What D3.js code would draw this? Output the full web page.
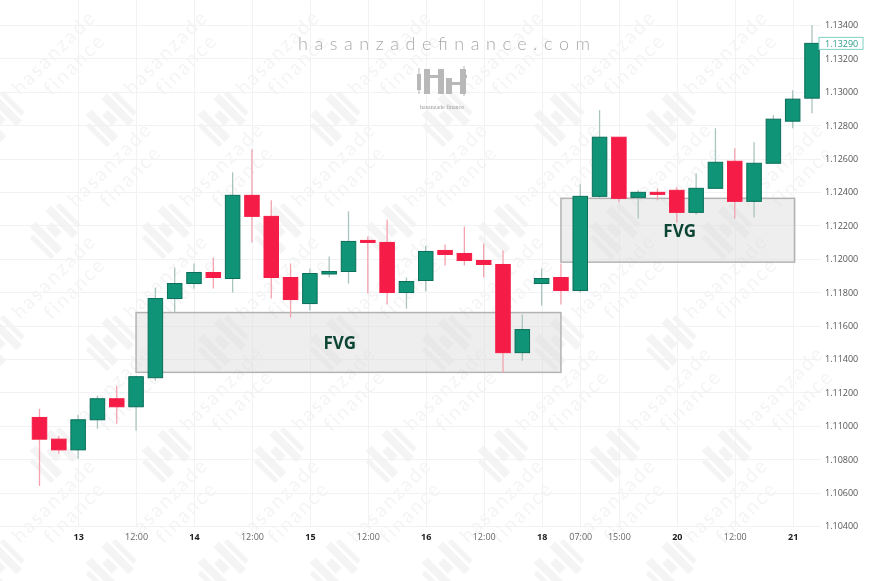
<!DOCTYPE html>
<html>
<head>
<meta charset="utf-8">
<script src="https://cdn.jsdelivr.net/npm/d3@7/dist/d3.min.js"></script>
<style>
  html, body { margin: 0; padding: 0; background: #fff; }
  svg { display: block; }
</style>
</head>
<body>
<div id="chart"></div>
<script>
// ---------- DATA ----------
const opens  = [1.11050,1.10920,1.10856,1.11036,1.11162,1.11114,1.11288,1.11762,1.11852,1.11918,
                1.11882,1.12380,1.12254,1.11888,1.11732,1.11909,1.11924,1.12110,1.12098,1.11798,
                1.11870,1.12050,1.12032,1.11990,1.11966,1.11438,1.11852,1.11888,1.11810,1.12374,
                1.12728,1.12368,1.12398,1.12410,1.12278,1.12422,1.12584,1.12344,1.12572,1.12824,
                1.12962];
const highs  = [1.11102,1.10940,1.11066,1.11180,1.11240,1.11300,1.11828,1.11948,1.11972,1.12008,
                1.12518,1.12656,1.12350,1.11972,1.11942,1.12014,1.12284,1.12134,1.12236,1.11888,
                1.12080,1.12086,1.12194,1.12092,1.12050,1.11666,1.11942,1.11972,1.12446,1.12890,
                1.12728,1.12410,1.12422,1.12428,1.12512,1.12782,1.12662,1.12698,1.12860,1.13010,
                1.13400];
const lows   = [1.10640,1.10832,1.10802,1.10982,1.11012,1.10970,1.11270,1.11678,1.11822,1.11822,
                1.11798,1.12098,1.11762,1.11648,1.11690,1.11888,1.11852,1.11792,1.11726,1.11702,
                1.11804,1.11960,1.11960,1.11888,1.11318,1.11390,1.11720,1.11726,1.11798,1.12362,
                1.12338,1.12242,1.12350,1.12218,1.12266,1.12422,1.12242,1.12248,1.12572,1.12782,
                1.12872];
const closes = [1.10920,1.10856,1.11036,1.11162,1.11114,1.11294,1.11762,1.11852,1.11918,1.11888,
                1.12380,1.12254,1.11888,1.11756,1.11912,1.11924,1.12104,1.12098,1.11798,1.11864,
                1.12044,1.12026,1.11990,1.11966,1.11438,1.11576,1.11882,1.11810,1.12374,1.12728,
                1.12362,1.12398,1.12386,1.12278,1.12422,1.12578,1.12344,1.12572,1.12836,1.12956,
                1.13290];

const yTicks = [1.134,1.132,1.130,1.128,1.126,1.124,1.122,1.120,1.118,1.116,1.114,1.112,1.110,1.108,1.106,1.104];

const xTickIndex  = [2, 5, 8, 11, 14, 17, 20, 23, 26, 28, 30, 33, 36, 39];
const xTickLabels = ["13","12:00","14","12:00","15","12:00","16","12:00","18","07:00","15:00","20","12:00","21"];

// FVG zones: start candle index, end candle index, top price, bottom price, label index position
const fvgStart  = [5, 27];
const fvgEnd    = [27, 39.1];
const fvgTop    = [1.11678, 1.12362];
const fvgBottom = [1.11320, 1.11980];
const fvgLabelX = [15.55, 33.15];
const fvgLabels = ["FVG", "FVG"];

const lastPrice = 1.13290;

// ---------- SETUP ----------
const W = 885, H = 581;
const svg = d3.select("#chart").append("svg").attr("width", W).attr("height", H);
svg.append("rect").attr("width", W).attr("height", H).attr("fill", "#fff");

const x = d3.scaleLinear().domain([0, opens.length - 1]).range([39.5, 812]);
const y = d3.scaleLinear().domain([1.104, 1.134]).range([526, 25]);
const bodyW = 14.5;
const plotRight = 821;

// ---------- BACKGROUND WATERMARK (tiled, kept inside the frame) ----------
const wm = svg.append("g").attr("opacity", 0.045);
const wmCenters = [];
for (let r = 0; r < 5; r++) {
  for (let c = 0; c < 8; c++) {
    const cx = 58 + c * 112 + (r % 2 ? 56 : 0);
    const cy = 62 + r * 112;
    if (cx >= 55 && cx <= 830 && cy <= 525) wmCenters.push([cx, cy]);
  }
}
wmCenters.forEach(p => {
  const g = wm.append("g").attr("transform", `translate(${p[0]},${p[1]}) rotate(-45)`);
  g.append("text").attr("x", 4).attr("y", -3).attr("text-anchor", "middle")
    .attr("font-family", "Lato, sans-serif").attr("font-size", 20).attr("letter-spacing", 2)
    .attr("fill", "#000").text("hasanzade");
  g.append("text").attr("x", 10).attr("y", 20).attr("text-anchor", "middle")
    .attr("font-family", "Lato, sans-serif").attr("font-size", 20).attr("letter-spacing", 2)
    .attr("fill", "#000").text("finance");
  const lg = g.append("g").attr("transform", "translate(-105,-22)");
  [[0,8,5,30],[8,0,8,38],[19,12,8,14],[30,0,8,38],[41,4,5,30]].forEach(b =>
    lg.append("rect").attr("x", b[0]).attr("y", b[1]).attr("width", b[2]).attr("height", b[3]).attr("fill", "#000"));
});

// ---------- GRID ----------
const grid = svg.append("g").attr("stroke", "#f1f2f4").attr("stroke-width", 1);
grid.selectAll("line.h").data(yTicks).join("line")
  .attr("x1", 0).attr("x2", plotRight)
  .attr("y1", d => Math.round(y(d)) + 0.5).attr("y2", d => Math.round(y(d)) + 0.5);
grid.selectAll("line.v").data(xTickIndex).join("line")
  .attr("y1", 0).attr("y2", 527)
  .attr("x1", d => Math.round(x(d)) + 0.5).attr("x2", d => Math.round(x(d)) + 0.5);

// ---------- HEADER WATERMARK ----------
svg.append("text")
  .attr("x", 298).attr("y", 50)
  .attr("textLength", 292).attr("lengthAdjust", "spacing")
  .attr("font-family", "Lato, sans-serif").attr("font-size", 18).attr("font-weight", 300)
  .attr("fill", "#a9a9a9")
  .text("hasanzadefinance.com");

const logo = svg.append("g").attr("fill", "#b8b8b8").attr("transform", "translate(416,64)");
[[1,10,4,16],[2.5,4,1,26],
 [8,5,6,25],[14,11,8,3],[22,5,6,25],
 [30,14,6,16],[36,18,8,3],[44,5,6,25],[50,11,1,3],
 [47.5,2,1,30]].forEach(b =>
  logo.append("rect").attr("x", b[0]).attr("y", b[1]).attr("width", b[2]).attr("height", b[3]));
logo.append("circle").attr("cx", 25).attr("cy", 12).attr("r", 1.5);
logo.append("circle").attr("cx", 33).attr("cy", 27).attr("r", 1.5);
svg.append("text").attr("x", 442).attr("y", 109).attr("text-anchor", "middle")
  .attr("font-family", "Liberation Serif, serif").attr("font-size", 6).attr("fill", "#9a9a9a")
  .text("hasanzade finance");

// ---------- FVG BOXES ----------
const fvgData = fvgStart.map((s, i) => ({s, e: fvgEnd[i], t: fvgTop[i], b: fvgBottom[i], lx: fvgLabelX[i], label: fvgLabels[i]}));
svg.append("g").selectAll("rect").data(fvgData).join("rect")
  .attr("x", d => x(d.s)).attr("y", d => y(d.t))
  .attr("width", d => x(d.e) - x(d.s)).attr("height", d => y(d.b) - y(d.t))
  .attr("fill", "#d9d9d9").attr("fill-opacity", 0.45)
  .attr("stroke", "#b3b3b3").attr("stroke-width", 1.5);

// ---------- CANDLES ----------
const candles = opens.map((o, i) => ({i, o, h: highs[i], l: lows[i], c: closes[i]}));
const up = d => d.c >= d.o;
const cg = svg.append("g");
cg.selectAll("line.wick").data(candles).join("line")
  .attr("x1", d => x(d.i)).attr("x2", d => x(d.i))
  .attr("y1", d => y(d.h)).attr("y2", d => y(d.l))
  .attr("stroke", d => up(d) ? "#a9c4bf" : "#f3a2ae").attr("stroke-width", 1.3);
cg.selectAll("rect.body").data(candles).join("rect")
  .attr("x", d => x(d.i) - bodyW / 2)
  .attr("y", d => y(Math.max(d.o, d.c)))
  .attr("width", bodyW)
  .attr("height", d => Math.max(2, Math.abs(y(d.o) - y(d.c))))
  .attr("fill", d => up(d) ? "#0f9477" : "#f51d47")
  .attr("stroke", d => up(d) ? "#0b6f5a" : "#f51d47")
  .attr("stroke-width", 1);

// ---------- FVG LABELS ----------
svg.append("g").selectAll("text").data(fvgData).join("text")
  .attr("x", d => x(d.lx)).attr("y", d => y((d.t + d.b) / 2))
  .attr("text-anchor", "middle").attr("dominant-baseline", "central")
  .attr("font-family", "Open Sans, sans-serif").attr("font-size", 17).attr("font-weight", 700)
  .attr("fill", "#0d4535")
  .text(d => d.label);

// ---------- Y AXIS ----------
const yAxis = d3.axisRight(y).tickValues(yTicks).tickSize(0).tickPadding(4).tickFormat(d3.format(".5f"));
const yg = svg.append("g").attr("transform", `translate(${plotRight},0)`).call(yAxis);
yg.select(".domain").remove();
yg.selectAll("text").attr("font-family", "Open Sans, sans-serif").attr("font-size", 9).attr("fill", "#555");

// last price label
const lp = svg.append("g");
lp.append("rect").attr("x", 819).attr("y", y(lastPrice) - 6).attr("width", 44).attr("height", 12)
  .attr("fill", "#fff").attr("stroke", "#7fd0c4").attr("stroke-width", 1);
lp.append("text").attr("x", 825).attr("y", y(lastPrice)).attr("dominant-baseline", "central")
  .attr("font-family", "Open Sans, sans-serif").attr("font-size", 9).attr("fill", "#2a9d8a")
  .text(d3.format(".5f")(lastPrice));

// ---------- X AXIS ----------
const xAxis = d3.axisBottom(x).tickValues(xTickIndex).tickSize(0).tickPadding(0)
  .tickFormat((d, i) => xTickLabels[i]);
const xg = svg.append("g").attr("transform", "translate(0,537)").call(xAxis);
xg.select(".domain").remove();
xg.selectAll("text")
  .attr("font-family", "Open Sans, sans-serif").attr("font-size", 9)
  .attr("dy", "0.3em")
  .attr("font-weight", (d, i) => xTickLabels[i].includes(":") ? 400 : 700)
  .attr("fill", (d, i) => xTickLabels[i].includes(":") ? "#666" : "#222");
</script>
</body>
</html>
